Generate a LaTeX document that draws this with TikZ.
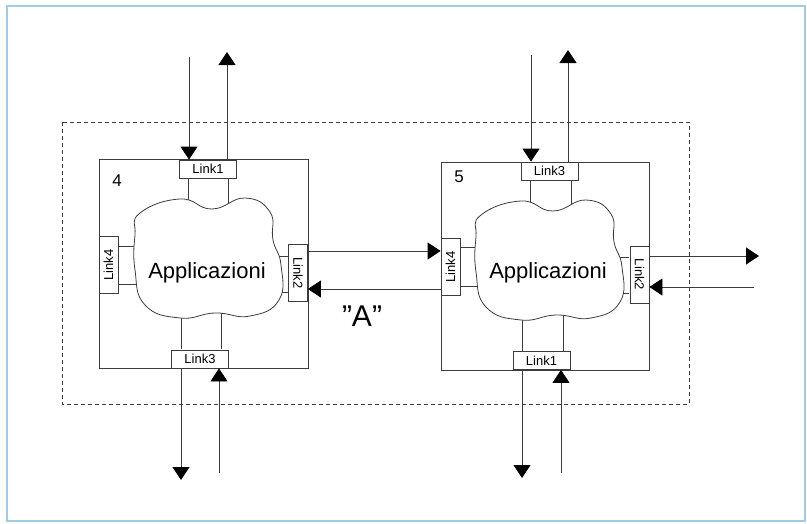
\documentclass[tikz,border=0pt]{standalone}
\usepackage{fontspec}
\setmainfont{Liberation Sans}
\usetikzlibrary{arrows.meta}
\definecolor{framecol}{RGB}{160,205,230}
\definecolor{linecol}{RGB}{60,60,60}
\begin{document}
\begin{tikzpicture}[x=1pt,y=-1pt,
  ln/.style={draw=linecol,line width=0.8pt},
  arr/.style={draw=linecol,line width=0.8pt,-{Triangle[length=13pt,width=17pt,color=black]}},
  hostbox/.style={draw=linecol,line width=0.8pt,minimum width=209pt,minimum height=209pt,inner sep=0pt},
  linkh/.style={draw=linecol,line width=0.8pt,fill=white,minimum width=57pt,minimum height=18pt,inner sep=0pt,font=\fontsize{13}{13}\selectfont},
  linkv/.style={draw=linecol,line width=0.8pt,fill=white,minimum width=57pt,minimum height=19pt,inner sep=0pt,font=\fontsize{13}{13}\selectfont},
  cloudln/.style={draw=linecol,line width=0.8pt,fill=white},
  apptext/.style={font=\fontsize{22}{22}\selectfont},
  numtext/.style={font=\fontsize{17}{17}\selectfont}
]
\useasboundingbox (0,0) rectangle (807,523);
% outer frame
\draw[framecol,line width=1.5pt] (7,6) rectangle (805,521);
% dashed frame
\draw[linecol,line width=0.7pt,dash pattern=on 4pt off 3pt] (62,122) rectangle (689,404);

% host boxes
\node[hostbox] (B4) at (203.5,263.5) {};
\node[hostbox,minimum width=208pt,minimum height=208pt] (B5) at (545,266) {};

\coordinate (c4) at (207,262);
\coordinate (c5) at (548,264);

% connector lines box 4 (cloud covers inner ends)
\draw[ln] (188,178) -- (188,230);
\draw[ln] (228,178) -- (228,230);
\draw[ln] (117,246) -- (170,246);
\draw[ln] (117,284) -- (170,284);
\draw[ln] (288,256) -- (250,256);
\draw[ln] (288,292) -- (250,292);
\draw[ln] (181,349) -- (181,300);
\draw[ln] (221,349) -- (221,300);
% connector lines box 5
\draw[ln] (530,180) -- (530,230);
\draw[ln] (571,180) -- (571,230);
\draw[ln] (461,247) -- (510,247);
\draw[ln] (461,286) -- (510,286);
\draw[ln] (629,257) -- (590,257);
\draw[ln] (629,293) -- (590,293);
\draw[ln] (522,351) -- (522,300);
\draw[ln] (563,351) -- (563,300);

% clouds
\path[cloudln] plot[smooth cycle,tension=0.8] coordinates {
 (140,213) (180,199) (212,209) (245,198) (270,212) (273,240) (281,265)
 (279,300) (250,316) (215,313) (180,318) (145,305) (135,270) (135,235)};
\begin{scope}[shift={(341,2)}]
\path[cloudln] plot[smooth cycle,tension=0.8] coordinates {
 (140,213) (180,199) (212,209) (245,198) (270,212) (273,240) (281,265)
 (279,300) (250,316) (215,313) (180,318) (145,305) (135,270) (135,235)};
\end{scope}

% link boxes host 4
\node[linkh] (L1a) at (208,169) {Link1};
\node[linkv,rotate=90] (L4a) at (108.5,265) {Link4};
\node[linkv,rotate=-90] (L2a) at (298,273) {Link2};
\node[linkh] (L3a) at (200,359) {Link3};
% link boxes host 5
\node[linkh] (L3b) at (549.5,171) {Link3};
\node[linkv,rotate=90] (L4b) at (450.5,267) {Link4};
\node[linkv,rotate=-90] (L2b) at (639.5,274.5) {Link2};
\node[linkh] (L1b) at (541.5,360.5) {Link1};

% labels
\node[apptext] (app4) at (c4 |- 0,273) {Applicazioni};
\node[apptext] (app5) at (c5 |- 0,273) {Applicazioni};
\node[numtext] (n4) at (117,181) {4};
\node[numtext] (n5) at (459,177) {5};
\node[font=\fontsize{30}{30}\selectfont] (lblA) at (362,316) {\char34 A\char34};

% free ends of external arrows
\coordinate (a4in) at (189,57);
\coordinate (a4out) at (227,52);
\coordinate (a4dn) at (181,480);
\coordinate (a4up) at (219,473);
\coordinate (a5in) at (531,55);
\coordinate (a5out) at (568,50);
\coordinate (a5dn) at (522,478);
\coordinate (a5up) at (561,473);
\coordinate (a5rout) at (759,256);
\coordinate (a5rin) at (754,287);

% external arrows host 4
\draw[arr] (a4in) -- (a4in |- L1a.north);
\draw[arr] (a4out |- L1a.north) -- (a4out);
\draw[arr] (a4dn |- L3a.south) -- (a4dn);
\draw[arr] (a4up) -- (a4up |- L3a.south);
% external arrows host 5
\draw[arr] (a5in) -- (a5in |- L3b.north);
\draw[arr] (a5out |- L3b.north) -- (a5out);
\draw[arr] (a5dn |- L1b.south) -- (a5dn);
\draw[arr] (a5up) -- (a5up |- L1b.south);
\draw[arr] (a5rout -| L2b.north) -- (a5rout);
\draw[arr] (a5rin) -- (a5rin -| L2b.north);
% between hosts (rotated nodes: L2a.north is its right side, L4b.north its left side)
\draw[arr] ([yshift=22pt]L2a.north) coordinate (h1) -- (h1 -| L4b.north);
\draw[arr] ([yshift=-22pt]L4b.north) coordinate (h2) -- (h2 -| L2a.north);
\end{tikzpicture}
\end{document}
